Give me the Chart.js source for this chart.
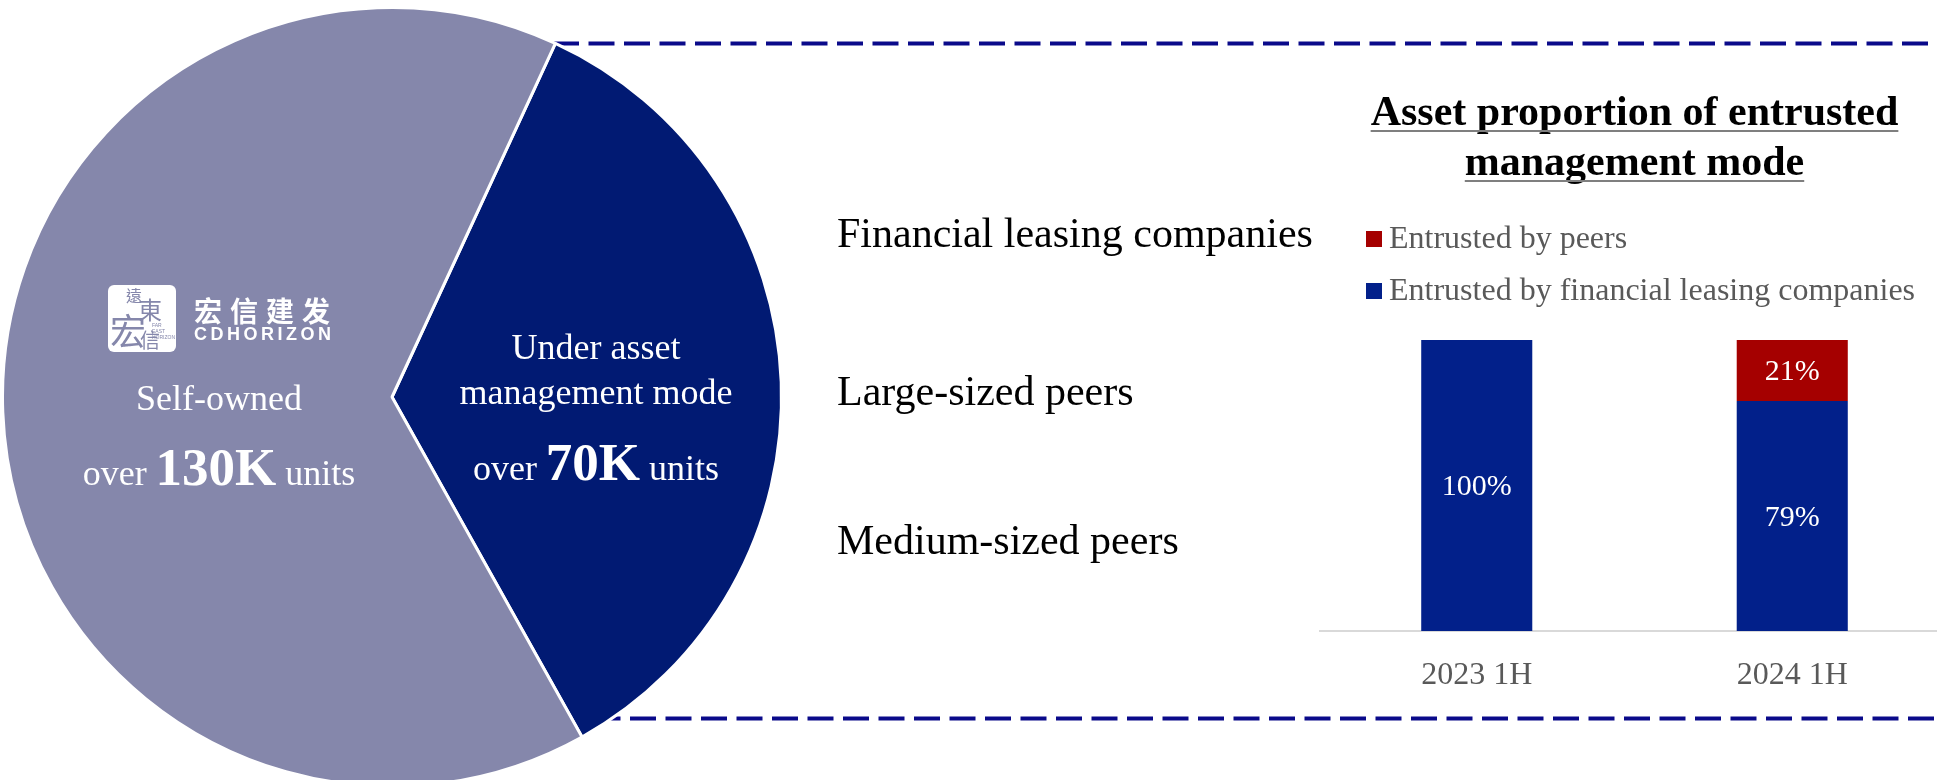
<!DOCTYPE html>
<html>
<head>
<meta charset="utf-8">
<title>Entrusted asset management</title>
<script src="https://cdn.jsdelivr.net/npm/chart.js@4.4.1/dist/chart.umd.min.js"></script>
<style>
  html, body { margin: 0; padding: 0; background: #fff; width: 1937px; height: 780px; overflow: hidden; }
  #pie { position: absolute; left: 0; top: 0; }
  #bars { position: absolute; left: 1319px; top: 0; }
  .logo { position: absolute; left: 108px; top: 285px; width: 68px; height: 67px; background: #fff; border-radius: 6px; overflow: hidden; }
  .logo span { position: absolute; color: #8587ab; font-family: "Noto Sans CJK TC"; line-height: 1; }
  .logo .fe { font-family: "Liberation Sans"; font-size: 5px; line-height: 6px; color: #8587ab; }
  .brand { position: absolute; left: 194px; top: 296px; color: #fff; font: bold 28px "Noto Sans CJK SC"; line-height: 1; letter-spacing: 8px; white-space: nowrap; }
  .brand-en { position: absolute; left: 194px; top: 325px; color: #fff; font: bold 18px "Liberation Sans"; line-height: 1; letter-spacing: 3.5px; white-space: nowrap; }
</style>
</head>
<body>
<canvas id="pie" width="1937" height="800"></canvas>
<canvas id="bars" width="631" height="780"></canvas>

<div class="logo">
  <span style="left:18px;top:2px;font-size:16px">遠</span>
  <span style="left:30px;top:12px;font-size:24px">東</span>
  <span style="left:2px;top:26px;font-size:36px">宏</span>
  <span style="left:32px;top:45px;font-size:20px">信</span>
  <span class="fe" style="left:44px;top:37px">FAR EAST<br>HORIZON</span>
</div>
<div class="brand">宏信建发</div>
<div class="brand-en">CDHORIZON</div>

<script>
// fleet split, thousand units
var pieLabels = ['Under asset management mode', 'Self-owned'];
var pieValues = [70, 130];
var pieColors = ['#011a73', '#8587ab'];

// share of entrusted assets by source, %
var periods = ['2023 1H', '2024 1H'];
var byLeasing = [100, 79];
var byPeers = [0, 21];

var peerGroups = ['Financial leasing companies', 'Large-sized peers', 'Medium-sized peers'];

var serif = '"Liberation Serif", "Times New Roman", serif';

// draws a line made of several font runs, centred on cx
function drawRuns(ctx, runs, cx, y) {
  var total = 0;
  runs.forEach(function (r) { ctx.font = r.font; r.w = ctx.measureText(r.text).width; total += r.w; });
  var x = cx - total / 2;
  ctx.textAlign = 'left';
  runs.forEach(function (r) { ctx.font = r.font; ctx.fillText(r.text, x, y); x += r.w; });
}

var dashedFrame = {
  id: 'dashedFrame',
  beforeDatasetsDraw: function (chart) {
    var ctx = chart.ctx;
    ctx.save();
    ctx.strokeStyle = '#0a0a8a';
    ctx.lineWidth = 4;
    ctx.setLineDash([26, 9.5]);
    ctx.beginPath(); ctx.moveTo(553, 43.5); ctx.lineTo(1937, 43.5); ctx.stroke();
    ctx.beginPath(); ctx.moveTo(594.5, 718.5); ctx.lineTo(1937, 718.5); ctx.stroke();
    ctx.restore();
  }
};

var pieText = {
  id: 'pieText',
  afterDatasetsDraw: function (chart) {
    var ctx = chart.ctx;
    var arc = chart.getDatasetMeta(0).data[0];
    var cx = arc.x, cy = arc.y;
    ctx.save();
    ctx.fillStyle = '#fff';
    ctx.textBaseline = 'alphabetic';
    var reg = '36px ' + serif, big = 'bold 53px ' + serif;

    // self-owned slice
    drawRuns(ctx, [{ text: 'Self-owned', font: reg }], cx - 173, cy + 13);
    drawRuns(ctx, [{ text: 'over ', font: reg }, { text: pieValues[1] + 'K', font: big }, { text: ' units', font: reg }], cx - 173, cy + 88);

    // managed slice
    drawRuns(ctx, [{ text: 'Under asset', font: reg }], cx + 204, cy - 38);
    drawRuns(ctx, [{ text: 'management mode', font: reg }], cx + 204, cy + 7);
    drawRuns(ctx, [{ text: 'over ', font: reg }, { text: pieValues[0] + 'K', font: big }, { text: ' units', font: reg }], cx + 204, cy + 83);

    // peer group captions
    ctx.fillStyle = '#000';
    ctx.font = '42px ' + serif;
    ctx.textAlign = 'left';
    var rows = [247, 405, 554];
    peerGroups.forEach(function (g, i) { ctx.fillText(g, 837, rows[i]); });
    ctx.restore();
  }
};

new Chart(document.getElementById('pie'), {
  type: 'pie',
  data: {
    labels: pieLabels,
    datasets: [{
      data: pieValues,
      backgroundColor: pieColors,
      borderColor: '#fff',
      borderWidth: 3
    }]
  },
  options: {
    responsive: false,
    animation: false,
    rotation: 24.8,
    layout: { padding: { left: 1, top: 6, right: 1154, bottom: 12 } },
    plugins: { legend: { display: false }, tooltip: { enabled: false } }
  },
  plugins: [dashedFrame, pieText]
});

var barTitle = {
  id: 'barTitle',
  afterDraw: function (chart) {
    var ctx = chart.ctx;
    var cx = (chart.chartArea.left + chart.chartArea.right) / 2;
    var lines = ['Asset proportion of entrusted', 'management mode'];
    var base = [125, 175];
    ctx.save();
    ctx.font = 'bold 42px ' + serif;
    ctx.fillStyle = '#000';
    ctx.textAlign = 'center';
    ctx.textBaseline = 'alphabetic';
    lines.forEach(function (t, i) {
      var w = ctx.measureText(t).width;
      ctx.fillText(t, cx, base[i]);
      ctx.fillStyle = '#7f7f7f';
      ctx.fillRect(cx - w / 2, base[i] + 5, w, 2);
      ctx.fillStyle = '#000';
    });
    ctx.restore();
  }
};

var barLegend = {
  id: 'barLegend',
  afterDraw: function (chart) {
    var ctx = chart.ctx;
    var sets = chart.data.datasets.slice().reverse();
    ctx.save();
    ctx.font = '32px ' + serif;
    ctx.textAlign = 'left';
    ctx.textBaseline = 'alphabetic';
    sets.forEach(function (ds, i) {
      var top = 231 + i * 52;
      ctx.fillStyle = ds.backgroundColor;
      ctx.fillRect(47, top, 16, 16);
      ctx.fillStyle = '#595959';
      ctx.fillText(ds.label, 70, top + 17);
    });
    ctx.restore();
  }
};

var barValues = {
  id: 'barValues',
  afterDatasetsDraw: function (chart) {
    var ctx = chart.ctx;
    ctx.save();
    ctx.font = '30px ' + serif;
    ctx.fillStyle = '#fff';
    ctx.textAlign = 'center';
    ctx.textBaseline = 'middle';
    chart.data.datasets.forEach(function (ds, di) {
      chart.getDatasetMeta(di).data.forEach(function (bar, i) {
        if (!ds.data[i]) return;
        ctx.fillText(ds.data[i] + '%', bar.x, (bar.y + bar.base) / 2 + 2);
      });
    });
    ctx.restore();
  }
};

new Chart(document.getElementById('bars'), {
  type: 'bar',
  data: {
    labels: periods,
    datasets: [
      { label: 'Entrusted by financial leasing companies', data: byLeasing, backgroundColor: '#02208a' },
      { label: 'Entrusted by peers', data: byPeers, backgroundColor: '#a50000' }
    ]
  },
  options: {
    responsive: false,
    animation: false,
    layout: { padding: { top: 340, bottom: 60.6, left: 0, right: 0 } },
    datasets: { bar: { categoryPercentage: 1, barPercentage: 0.352 } },
    scales: {
      x: {
        stacked: true,
        grid: { display: false, drawTicks: false },
        border: { display: true, color: '#d9d9d9', width: 2 },
        ticks: { color: '#595959', font: { family: serif, size: 32 }, padding: 25 }
      },
      y: { stacked: true, display: false, min: 0, max: 100 }
    },
    plugins: { legend: { display: false }, tooltip: { enabled: false } }
  },
  plugins: [barTitle, barLegend, barValues]
});
</script>
</body>
</html>
